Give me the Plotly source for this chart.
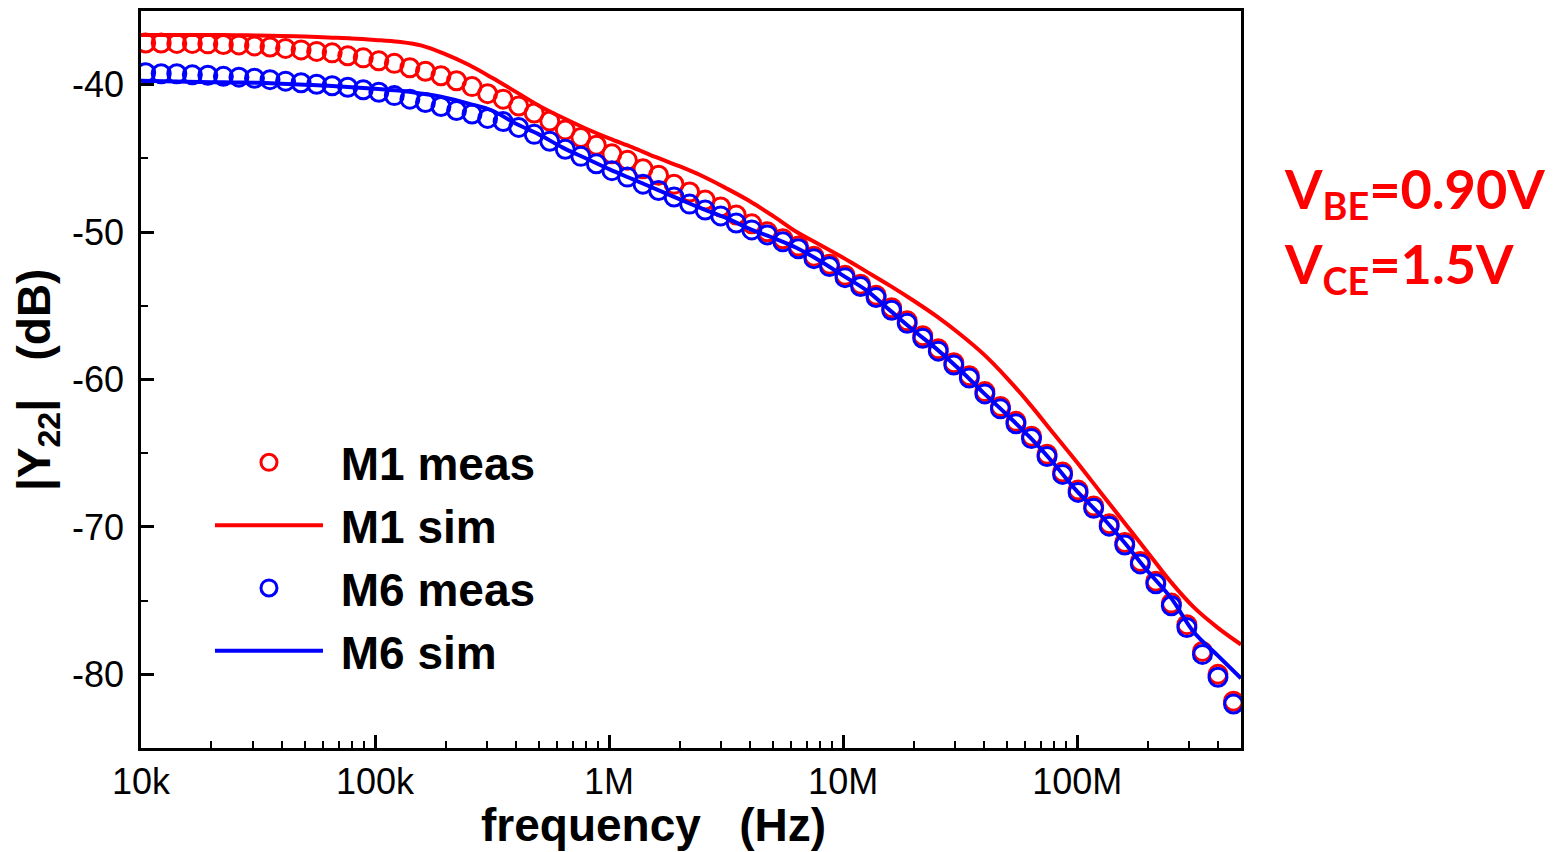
import plotly.graph_objects as go

# ---------------- data ----------------
# measured frequency sweep (Hz)
freq_meas = [
    1.047e4, 1.220e4, 1.422e4, 1.657e4, 1.930e4, 2.249e4, 2.621e4, 3.054e4, 3.558e4, 4.146e4,
    4.831e4, 5.629e4, 6.559e4, 7.643e4, 8.905e4,
    1.038e5, 1.209e5, 1.409e5, 1.642e5, 1.913e5, 2.229e5, 2.597e5, 3.026e5, 3.526e5, 4.108e5,
    4.787e5, 5.578e5, 6.499e5, 7.573e5, 8.824e5,
    1.028e6, 1.198e6, 1.396e6, 1.627e6, 1.895e6, 2.208e6, 2.573e6, 2.998e6, 3.493e6, 4.070e6,
    4.743e6, 5.526e6, 6.439e6, 7.503e6, 8.742e6,
    1.019e7, 1.187e7, 1.383e7, 1.612e7, 1.878e7, 2.188e7, 2.550e7, 2.971e7, 3.461e7, 4.033e7,
    4.700e7, 5.476e7, 6.380e7, 7.434e7, 8.662e7,
    1.009e8, 1.176e8, 1.370e8, 1.597e8, 1.861e8, 2.168e8, 2.526e8, 2.943e8, 3.430e8, 3.996e8,
    4.656e8,
]

m1_meas = [
    -37.17, -37.17, -37.20, -37.20, -37.23, -37.27, -37.30, -37.37, -37.44, -37.54,
    -37.64, -37.74, -37.84, -38.04, -38.18, -38.38, -38.55, -38.85, -39.09, -39.39,
    -39.73, -40.13, -40.61, -40.98, -41.45, -41.92, -42.46, -43.07, -43.58, -44.11,
    -44.69, -45.13, -45.70, -46.14, -46.75, -47.28, -47.82, -48.30, -48.84, -49.44,
    -49.98, -50.45, -50.95, -51.63, -52.18, -52.93, -53.53, -54.28, -55.13, -56.02,
    -57.03, -57.92, -58.86, -59.74, -60.82, -61.83, -62.84, -63.85, -65.07, -66.28,
    -67.50, -68.58, -69.79, -71.06, -72.34, -73.69, -75.17, -76.63, -78.45, -80.00,
    -81.82,
]

m6_meas = [
    -39.19, -39.26, -39.26, -39.33, -39.36, -39.43, -39.49, -39.56, -39.66, -39.76,
    -39.87, -39.97, -40.07, -40.17, -40.34, -40.51, -40.74, -40.98, -41.21, -41.48,
    -41.75, -41.99, -42.29, -42.50, -42.90, -43.37, -43.84, -44.38, -44.86, -45.36,
    -45.83, -46.27, -46.75, -47.18, -47.62, -48.10, -48.50, -48.90, -49.38, -49.85,
    -50.19, -50.66, -51.13, -51.80, -52.34, -53.09, -53.69, -54.44, -55.30, -56.19,
    -57.20, -58.08, -59.02, -59.90, -60.98, -61.99, -63.00, -64.01, -65.23, -66.44,
    -67.66, -68.74, -69.95, -71.23, -72.51, -73.86, -75.35, -76.83, -78.65, -80.20,
    -82.02,
]

# simulation frequency grid (Hz)
freq_sim = [
    1.000e4, 1.259e4, 1.585e4, 1.995e4, 2.512e4, 3.162e4, 3.981e4, 5.012e4, 6.310e4, 7.943e4,
    1.000e5, 1.259e5, 1.585e5, 1.995e5, 2.512e5, 3.162e5, 3.981e5, 5.012e5, 6.310e5, 7.943e5,
    1.000e6, 1.259e6, 1.585e6, 1.995e6, 2.512e6, 3.162e6, 3.981e6, 5.012e6, 6.310e6, 7.943e6,
    1.000e7, 1.259e7, 1.585e7, 1.995e7, 2.512e7, 3.162e7, 3.981e7, 5.012e7, 6.310e7, 7.943e7,
    1.000e8, 1.259e8, 1.585e8, 1.995e8, 2.512e8, 3.162e8, 3.981e8, 5.012e8,
]

m1_sim = [
    -36.63, -36.63, -36.63, -36.63, -36.64, -36.66, -36.69, -36.73, -36.80, -36.86,
    -36.96, -37.09, -37.35, -37.93, -38.65, -39.53, -40.47, -41.42, -42.23, -42.97,
    -43.64, -44.25, -44.92, -45.53, -46.21, -47.02, -47.89, -48.90, -49.98, -50.86,
    -51.74, -52.68, -53.63, -54.64, -55.72, -56.93, -58.28, -59.90, -61.72, -63.68,
    -65.63, -67.66, -69.68, -71.70, -73.73, -75.48, -76.83, -77.98,
]

m6_sim = [
    -39.73, -39.76, -39.80, -39.83, -39.85, -39.87, -39.93, -40.00, -40.07, -40.17,
    -40.27, -40.40, -40.61, -40.88, -41.28, -41.75, -42.63, -43.37, -44.25, -44.99,
    -45.73, -46.41, -47.08, -47.76, -48.43, -49.04, -49.78, -50.39, -51.06, -51.94,
    -52.95, -53.96, -55.31, -56.66, -57.94, -59.36, -60.91, -62.39, -63.95, -65.70,
    -67.59, -69.21, -71.03, -72.98, -74.80, -77.17, -78.72, -80.27,
]

x_tickvals = [1e4, 1e5, 1e6, 1e7, 1e8]
x_ticktext = ["10k", "100k", "1M", "10M", "100M"]
x_minorvals = [m * 10 ** e for e in range(4, 9) for m in range(2, 10)]
y_tickvals = [-80, -70, -60, -50, -40]
y_ticktext = ["-80", "-70", "-60", "-50", "-40"]
y_minorvals = [-85, -75, -65, -55, -45, -35]

RED = "#FF0000"
BLUE = "#0000FF"
FONT = "Arial, Liberation Sans, sans-serif"
NB = "\u00a0"

fig = go.Figure()
fig.add_trace(go.Scatter(
    x=freq_meas, y=m1_meas, mode="markers", name=NB + "M1 meas",
    marker=dict(symbol="circle-open", size=18, color=RED, line=dict(width=3, color=RED)),
))
fig.add_trace(go.Scatter(
    x=freq_sim, y=m1_sim, mode="lines", name=NB + "M1 sim",
    line=dict(color=RED, width=4, shape="spline"),
))
fig.add_trace(go.Scatter(
    x=freq_meas, y=m6_meas, mode="markers", name=NB + "M6 meas",
    marker=dict(symbol="circle-open", size=18, color=BLUE, line=dict(width=3, color=BLUE)),
))
fig.add_trace(go.Scatter(
    x=freq_sim, y=m6_sim, mode="lines", name=NB + "M6 sim",
    line=dict(color=BLUE, width=4, shape="spline"),
))

fig.update_xaxes(
    type="log", range=[4, 8.7],
    tickvals=x_tickvals, ticktext=x_ticktext,
    ticks="inside", ticklen=13, tickwidth=2.5, tickcolor="black",
    minor=dict(tickvals=x_minorvals, ticks="inside", ticklen=7, tickwidth=2, tickcolor="black", showgrid=False),
    showline=True, linecolor="black", linewidth=2.5, mirror=True,
    showgrid=False, zeroline=False,
    tickfont=dict(family=FONT, size=36, color="black"),
    ticklabelstandoff=0,
)
fig.update_yaxes(
    range=[-85, -35],
    tickvals=y_tickvals, ticktext=y_ticktext,
    ticks="inside", ticklen=13, tickwidth=2.5, tickcolor="black",
    minor=dict(tickvals=y_minorvals, ticks="inside", ticklen=7, tickwidth=2, tickcolor="black", showgrid=False),
    showline=True, linecolor="black", linewidth=2.5, mirror=True,
    showgrid=False, zeroline=False,
    tickfont=dict(family=FONT, size=36, color="black"),
    ticklabelstandoff=7,
)

fig.update_layout(
    width=1556, height=844,
    margin=dict(l=133, r=323, t=0, b=104),
    paper_bgcolor="white", plot_bgcolor="white",
    showlegend=True,
    legend=dict(
        x=0.0627, y=0.437, xanchor="left", yanchor="top",
        bgcolor="rgba(0,0,0,0)", borderwidth=0,
        font=dict(family=FONT, size=46, color="black", weight="bold"),
        itemwidth=108, tracegroupgap=0,
    ),
    annotations=[
        dict(text="frequency\u00a0\u00a0\u00a0(Hz)", xref="paper", yref="paper",
             x=0.466, y=-0.104, xanchor="center", yanchor="middle", showarrow=False,
             font=dict(family=FONT, size=46, color="black", weight="bold")),
        dict(text="|Y<sub>22</sub>|\u00a0\u00a0\u00a0(dB)", xref="paper", yref="paper",
             x=-0.094, y=0.5, xanchor="center", yanchor="middle", textangle=-90, showarrow=False,
             font=dict(family=FONT, size=46, color="black", weight="bold")),
        dict(text="V<sub>BE</sub>=0.90V", xref="paper", yref="paper",
             x=1.037, y=0.754, xanchor="left", yanchor="middle", showarrow=False,
             font=dict(family="Lato, Open Sans, sans-serif", size=54, color=RED, weight="bold")),
        dict(text="V<sub>CE</sub>=1.5V", xref="paper", yref="paper",
             x=1.037, y=0.652, xanchor="left", yanchor="middle", showarrow=False,
             font=dict(family="Lato, Open Sans, sans-serif", size=54, color=RED, weight="bold")),
    ],
)

fig.write_html("out.html")
